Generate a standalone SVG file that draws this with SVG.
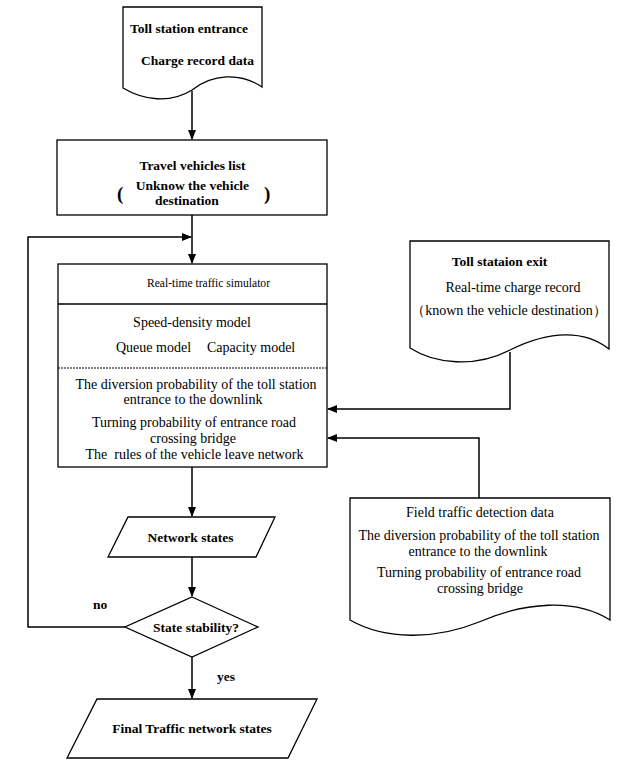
<svg xmlns="http://www.w3.org/2000/svg" width="638" height="768" viewBox="0 0 638 768">
<style>
.s{fill:#fff;stroke:#000;stroke-width:1.3}
.c{fill:none;stroke:#000;stroke-width:1.5}
text{font-family:"Liberation Serif","Times New Roman",serif;font-size:14px;fill:#000}
.b{font-weight:bold;font-size:13.5px}
.m{text-anchor:middle}
</style>
<defs>
<marker id="a" markerWidth="10" markerHeight="8" refX="9" refY="4" orient="auto" markerUnits="userSpaceOnUse">
<path d="M0,0 L10,4 L0,8 Z" fill="#000"/>
</marker>
</defs>
<rect width="638" height="768" fill="#fff"/>
<g id="connectors">
<path class="c" d="M192,91 V139" marker-end="url(#a)"/>
<path class="c" d="M192,215 V263" marker-end="url(#a)"/>
<path class="c" d="M125,627 H28 V237 H191" marker-end="url(#a)"/>
<path class="c" d="M510,352 V409 H328" marker-end="url(#a)"/>
<path class="c" d="M479,498 V438 H328" marker-end="url(#a)"/>
<path class="c" d="M192,467 V516" marker-end="url(#a)"/>
<path class="c" d="M192,557 V596" marker-end="url(#a)"/>
<path class="c" d="M192,657 V698" marker-end="url(#a)"/>
</g>
<g id="entrance">
<path class="s" d="M123,7 H262 V87 C240,72 212,74 192,90 C170,104 143,100 123,88 Z"/>
<text class="b" x="130" y="33">Toll station entrance</text>
<text class="b" x="141" y="65">Charge record data</text>
</g>
<g id="travel">
<rect class="s" x="57" y="140" width="270" height="75"/>
<text class="b m" x="192.5" y="170">Travel vehicles list</text>
<text class="b m" x="192.5" y="190">Unknow the vehicle</text>
<text class="b m" x="187" y="205">destination</text>
<text class="b" x="117" y="200" style="font-size:19px">(</text>
<text class="b" x="264" y="200" style="font-size:19px">)</text>
</g>
<g id="simulator">
<rect class="s" x="58" y="264" width="269" height="203"/>
<line x1="58" y1="304" x2="327" y2="304" stroke="#000" stroke-width="1.3"/>
<line x1="58" y1="368" x2="327" y2="368" stroke="#000" stroke-width="1.2" stroke-dasharray="2,1"/>
<text x="147" y="287" style="font-size:13px" textLength="123" lengthAdjust="spacingAndGlyphs">Real-time traffic simulator</text>
<text class="m" x="192" y="327">Speed-density model</text>
<text x="116" y="352">Queue model</text>
<text x="207" y="352">Capacity model</text>
<text class="m" x="196" y="389">The diversion probability of the toll station</text>
<text class="m" x="193" y="404">entrance to the downlink</text>
<text class="m" x="194" y="427">Turning probability of entrance road</text>
<text class="m" x="193" y="443">crossing bridge</text>
<text class="m" x="194.5" y="459" xml:space="preserve">The  rules of the vehicle leave network</text>
</g>
<g id="exit">
<path class="s" d="M410,241 H609 V349 C585,330 550,330 510,350 C475,368 435,364 410,348 Z"/>
<text class="b m" x="499.5" y="266">Toll stataion exit</text>
<text class="m" x="513" y="292">Real-time charge record</text>
<text class="m" x="509" y="315">（known the vehicle destination）</text>
</g>
<g id="field">
<path class="s" d="M350,498 H610 V620 C575,598 525,602 479,622 C435,640 385,640 350,620 Z"/>
<text class="m" x="480" y="517">Field traffic detection data</text>
<text class="m" x="479" y="540">The diversion probability of the toll station</text>
<text class="m" x="478" y="556">entrance to the downlink</text>
<text class="m" x="479" y="577">Turning probability of entrance road</text>
<text class="m" x="480" y="593">crossing bridge</text>
</g>
<g id="network">
<path class="s" d="M128,517 H275 L256,557 H108 Z"/>
<text class="b m" x="190.5" y="542">Network states</text>
</g>
<g id="decision">
<path class="s" d="M192,597 L258,627 L192,657 L125,627 Z"/>
<text class="b m" x="196" y="632">State stability?</text>
<text class="b" x="93" y="609">no</text>
<text class="b" x="217" y="681">yes</text>
</g>
<g id="final">
<path class="s" d="M97,699 H317 L288,758 H67 Z"/>
<text class="b m" x="192" y="733">Final Traffic network states</text>
</g>
</svg>
